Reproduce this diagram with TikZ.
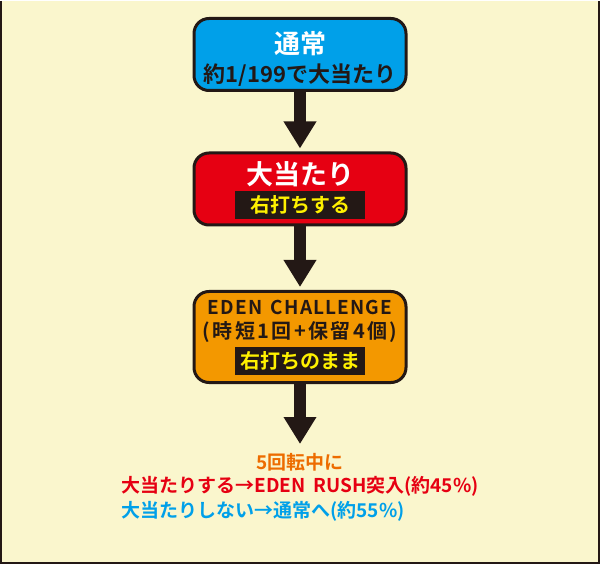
\documentclass[tikz,border=0pt]{standalone}
\usepackage{fontspec}
\setmainfont{Noto Sans CJK JP}[BoldFont={* Bold}]
\newfontfamily\spacedfont{Noto Sans CJK JP}[UprightFont={* Bold},LetterSpace=12]
\newfontfamily\widefont{Noto Sans CJK JP}[UprightFont={* Bold},LetterSpace=6]
\usetikzlibrary{arrows.meta}
\definecolor{paper}{RGB}{250,246,205}
\definecolor{ink}{RGB}{35,24,21}
\definecolor{normalblue}{RGB}{0,160,233}
\definecolor{hitred}{RGB}{230,0,18}
\definecolor{challorange}{RGB}{243,152,0}
\definecolor{tagyellow}{RGB}{255,241,0}
\definecolor{noteorange}{RGB}{237,108,0}
\begin{document}
\begin{tikzpicture}[
		x=1pt,y=-1pt,
		font=\bfseries,
		stagebox/.style={draw=ink,line width=3pt,rounded corners=15pt,minimum width=212pt,inner sep=0pt},
		tagbox/.style={fill=ink,text=tagyellow,minimum width=130pt,minimum height=28pt,inner sep=0pt,font=\bfseries\fontsize{20}{20}\selectfont},
		result/.style={font=\bfseries\fontsize{19}{19}\selectfont},
		flow/.style={draw=ink,line width=12pt,-{Triangle[width=31pt,length=27pt]}},
	]
		\fill[paper] (0,0) rectangle (600,563);
		\draw[ink,line width=2pt] (1,0) -- (1,562) -- (599,562) -- (599,0);
		
		% stages
		\node[stagebox,fill=normalblue,minimum height=72pt] (normal) at (300,53.5) {};
		\node[stagebox,fill=hitred,minimum height=72pt] (hit) at (300,188) {};
		\node[stagebox,fill=challorange,minimum height=91pt] (challenge) at (300,336) {};
		
		% texts inside
		\node[text=white,font=\bfseries\fontsize{26}{26}\selectfont] (normaltitle) at (300,43) {通常};
		\node[text=ink,font=\bfseries\fontsize{22}{22}\selectfont] (normalodds) at (300,74) {約1/199で大当たり};
		\node[text=white,font=\bfseries\fontsize{27}{27}\selectfont] (hittitle) at (300,173) {大当たり};
		\node[tagbox] (hittag) at (300,204) {右打ちする};
		\node[text=ink,font=\widefont\fontsize{19}{19}\selectfont] (challtitle) at (300,306) {EDEN\hspace{0.45em}CHALLENGE};
		\node[text=ink,font=\spacedfont\fontsize{20}{20}\selectfont] (challnote) at (300,331) {(時短1回+保留4個)};
		\node[tagbox] (challtag) at (300,359.5) {右打ちのまま};
		
		% result
		\node[result,text=noteorange] (spins) at (300,461) {5回転中に};
		\node[result,text=hitred] (rush) at (300,485) {大当たりする→EDEN\hspace{0.4em}RUSH突入(約45\%)};
		\node[result,text=normalblue,anchor=west] (back) at (rush.west |- 0,510) {大当たりしない→通常へ(約55\%)};
		\coordinate (tip) at (300,443);
		
		% arrows
		\draw[flow,shorten >=3pt] (normal.south) -- (hit.north);
		\draw[flow,shorten >=3pt] (hit.south) -- (challenge.north);
		\draw[flow] (challenge.south) -- (tip);
	\end{tikzpicture}
\end{document}
